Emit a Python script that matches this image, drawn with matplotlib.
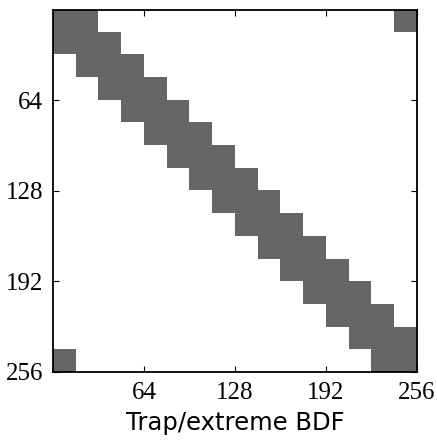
import numpy as np
import matplotlib.pyplot as plt
from matplotlib.colors import ListedColormap

# block sparsity pattern: 16 x 16 blocks of size 16 (periodic tridiagonal)
nblocks = 16
blocksize = 16
block_cols = [
    [15, 0, 1], [0, 1, 2], [1, 2, 3], [2, 3, 4],
    [3, 4, 5], [4, 5, 6], [5, 6, 7], [6, 7, 8],
    [7, 8, 9], [8, 9, 10], [9, 10, 11], [10, 11, 12],
    [11, 12, 13], [12, 13, 14], [13, 14, 15], [14, 15, 0],
]
ticks = [64, 128, 192, 256]
xlabel = "Trap/extreme BDF"

n = nblocks * blocksize
M = np.zeros((n, n))
for i, cols in enumerate(block_cols):
    for j in cols:
        M[i*blocksize:(i+1)*blocksize, j*blocksize:(j+1)*blocksize] = 1

fig = plt.figure(figsize=(4.37, 4.45), dpi=100)
ax = fig.add_axes([53/437, 73/445, 364/437, 362.5/445])
ax.imshow(M, cmap=ListedColormap(['white', '#666666']), extent=(0, n, n, 0),
          interpolation='nearest', aspect='auto')
ax.set_xlim(0, n)
ax.set_ylim(n, 0)
ax.set_xticks(ticks)
ax.set_yticks(ticks)
ax.tick_params(direction='in', top=True, right=True, length=4, width=0.8,
               labelsize=18, pad=7)
for lab in ax.get_xticklabels() + ax.get_yticklabels():
    lab.set_family('Liberation Serif')
for s in ax.spines.values():
    s.set_linewidth(1.3)
ax.set_xlabel(xlabel, fontsize=17.5, family='DejaVu Sans', labelpad=5)

fig.savefig('out.png', dpi=100)
